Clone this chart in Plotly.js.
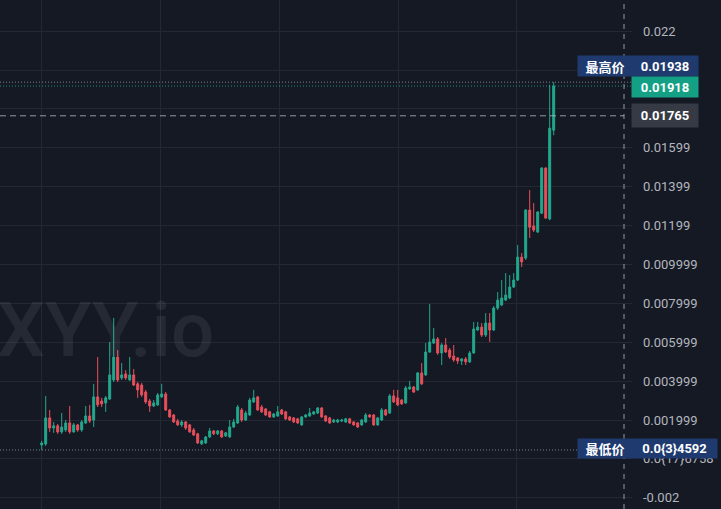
<!DOCTYPE html>
<html>
<head>
<meta charset="utf-8">
<script src="https://cdn.plot.ly/plotly-3.0.1.min.js"></script>
<style>html,body{margin:0;padding:0;background:#151924;}#chart{width:721px;height:509px;}</style>
</head>
<body>
<div id="chart"></div>
<script>
// ---- data ----
const openVals = [0.00072,0.00077,0.00211,0.00159,0.0017,0.00139,0.00149,0.00185,0.00139,0.00175,
0.00149,0.00185,0.00221,0.002,0.00319,0.00298,0.00288,0.00308,0.00406,0.00524,
0.00416,0.00437,0.00406,0.00432,0.00386,0.0038,0.00344,0.00298,0.00272,0.00278,
0.00319,0.00334,0.00252,0.00226,0.00195,0.00175,0.0019,0.00175,0.00149,0.00129,
0.00077,0.00082,0.00113,0.00144,0.00129,0.00144,0.00118,0.00113,0.00164,0.00185,
0.00252,0.002,0.00226,0.00293,0.00319,0.00267,0.00257,0.00242,0.00216,0.00221,
0.00252,0.00242,0.00216,0.00211,0.00206,0.00175,0.00216,0.00221,0.00231,0.00236,
0.00262,0.00221,0.00211,0.0019,0.0019,0.00195,0.0019,0.00206,0.0019,0.00185,
0.00175,0.0019,0.00226,0.00226,0.00175,0.002,0.00252,0.00236,0.00324,0.00314,
0.00303,0.00288,0.0036,0.0037,0.00355,0.00442,0.00432,0.0055,0.00596,0.00617,
0.00545,0.00586,0.0056,0.00529,0.00519,0.00504,0.00514,0.00499,0.00545,0.00663,
0.00678,0.00637,0.00699,0.00663,0.00776,0.00792,0.00817,0.00828,0.00884,0.0092,
0.01038,0.01033,0.0128,0.01198,0.01167,0.01264,0.01496,0.01234,0.01691];

const highVals = [0.00093,0.00324,0.00252,0.0019,0.0018,0.00236,0.002,0.00272,0.00185,0.0018,
0.002,0.00272,0.00278,0.00386,0.00524,0.00314,0.00324,0.00601,0.00725,0.0056,
0.00493,0.00457,0.00524,0.00463,0.00396,0.00391,0.00355,0.00308,0.00303,0.00339,
0.00386,0.00344,0.00257,0.00231,0.00206,0.002,0.00195,0.0018,0.00159,0.00134,
0.00098,0.00118,0.00159,0.00149,0.00149,0.00149,0.00139,0.002,0.00206,0.00278,
0.00262,0.00247,0.00314,0.00355,0.00324,0.00278,0.00262,0.00247,0.00236,0.00272,
0.00257,0.00247,0.00221,0.00216,0.00211,0.00221,0.00231,0.00262,0.00247,0.00267,
0.00267,0.00226,0.00216,0.00206,0.00206,0.00206,0.00211,0.00211,0.00195,0.0019,
0.00206,0.00236,0.00231,0.00231,0.00216,0.00262,0.00257,0.00334,0.00355,0.00355,
0.00308,0.00375,0.00401,0.00375,0.00447,0.00493,0.00596,0.00797,0.00673,0.00627,
0.00596,0.00622,0.00571,0.00586,0.00524,0.00519,0.00524,0.00555,0.00704,0.00704,
0.00699,0.0075,0.0075,0.00786,0.00858,0.0092,0.00956,0.00946,0.00956,0.011,
0.01059,0.01285,0.01383,0.01316,0.01275,0.01501,0.01501,0.01925,0.01938];

const lowVals = [0.0004592,0.00067,0.00139,0.00134,0.00129,0.00129,0.00139,0.00129,0.00134,0.00139,
0.00139,0.0018,0.00185,0.00164,0.00267,0.00267,0.00242,0.00303,0.00396,0.00396,
0.00406,0.00406,0.00401,0.00375,0.00314,0.00319,0.00283,0.00242,0.00267,0.00272,
0.00314,0.00247,0.00211,0.00185,0.0017,0.00164,0.00149,0.00134,0.00118,0.00077,
0.00072,0.00077,0.00108,0.00123,0.00123,0.00108,0.00113,0.00108,0.00159,0.0018,
0.0019,0.00195,0.00221,0.00288,0.00247,0.00236,0.00221,0.00211,0.00211,0.00216,
0.00226,0.002,0.00195,0.00185,0.0018,0.0017,0.00211,0.00216,0.00226,0.00231,
0.00211,0.0019,0.0018,0.00185,0.00185,0.0019,0.00185,0.0018,0.0017,0.00159,
0.0017,0.00185,0.00211,0.0017,0.0017,0.00195,0.00221,0.00231,0.00288,0.00272,
0.00278,0.00283,0.00355,0.00339,0.0035,0.0038,0.00427,0.00545,0.00591,0.00535,
0.00483,0.00545,0.00514,0.00499,0.00488,0.00483,0.00483,0.00493,0.0054,0.00658,
0.00627,0.00627,0.00601,0.00658,0.00766,0.00786,0.00812,0.00822,0.00879,0.00915,
0.00987,0.01023,0.01136,0.01167,0.01162,0.01259,0.01234,0.01228,0.01665];

const closeVals = [0.00082,0.00211,0.00159,0.0017,0.00139,0.00164,0.00185,0.00139,0.00175,0.00149,
0.0019,0.00221,0.00195,0.00319,0.00278,0.00283,0.00314,0.00432,0.00524,0.00406,
0.00432,0.00416,0.00432,0.0038,0.00355,0.00329,0.00293,0.00272,0.00288,0.00329,
0.00334,0.00252,0.00216,0.0019,0.00175,0.0019,0.00159,0.00139,0.00123,0.00082,
0.00093,0.00113,0.00144,0.00129,0.00144,0.00113,0.00134,0.00164,0.0019,0.00267,
0.002,0.00236,0.00303,0.00314,0.00252,0.00242,0.00226,0.00216,0.00231,0.00242,
0.00231,0.00206,0.002,0.0019,0.00185,0.00216,0.00226,0.00236,0.00242,0.00262,
0.00216,0.00195,0.00185,0.002,0.002,0.002,0.00206,0.00185,0.00175,0.00164,
0.002,0.00226,0.00216,0.00175,0.00211,0.00252,0.00226,0.00324,0.00293,0.00278,
0.00283,0.00365,0.0037,0.00344,0.00442,0.00386,0.0055,0.00601,0.00617,0.00545,
0.00586,0.0055,0.00524,0.00509,0.00504,0.00514,0.00499,0.00545,0.00668,0.00678,
0.00637,0.00699,0.00663,0.00776,0.00817,0.00828,0.00843,0.00884,0.0092,0.01038,
0.01013,0.0128,0.01192,0.01177,0.0127,0.01496,0.01239,0.01701,0.01918];

const yTickVals = [-0.002, 0, 0.002, 0.004, 0.006, 0.008, 0.01, 0.012, 0.014, 0.016, 0.018, 0.02, 0.022];
const yTickText = ["-0.002", "0.0{17}6758", "0.001999", "0.003999", "0.005999", "0.007999", "0.009999", "0.01199", "0.01399", "0.01599", "", "", "0.022"];

const highPrice = 0.01938, highLabel = "0.01938";
const lowPrice = 0.0004592, lowLabel = "0.0{3}4592";
const lastPrice = 0.01918, lastLabel = "0.01918";
const crossPrice = 0.01765, crossLabel = "0.01765";
const highTitle = "最高价", lowTitle = "最低价";
const watermark = "XYY.io";

const xIdx = closeVals.map((_, i) => i);

const UP = '#22a88e', DOWN = '#e8505b';
const trace = {
  type: 'candlestick',
  x: xIdx, open: openVals, high: highVals, low: lowVals, close: closeVals,
  increasing: {line: {color: UP, width: 1}, fillcolor: UP},
  decreasing: {line: {color: DOWN, width: 1}, fillcolor: DOWN},
  whiskerwidth: 0,
  hoverinfo: 'skip',
  showlegend: false
};

const PW = 632; // plot width in px
const px = v => v / PW;
const labelFont = {family: 'Roboto, "Noto Sans CJK SC", sans-serif', size: 13, color: '#ffffff', weight: 'bold'};
const cjkFont = {family: '"Noto Sans CJK SC", sans-serif', size: 13, color: '#ffffff', weight: 'bold'};
const BLUE = '#1e3a6f';

const layout = {
  width: 721, height: 509,
  margin: {l: 0, r: 89, t: 0, b: 0, pad: 0},
  paper_bgcolor: '#151924', plot_bgcolor: '#151924',
  font: {family: 'Roboto, sans-serif', size: 13, color: '#b2b5be'},
  showlegend: false,
  xaxis: {
    range: [-10.425, 147.575], showticklabels: false, ticks: '',
    showgrid: true, gridcolor: '#232834', gridwidth: 1, zeroline: false,
    tick0: 0, dtick: 29.7, rangeslider: {visible: false}, fixedrange: true, showline: false
  },
  yaxis: {
    side: 'right', range: [-0.002577, 0.023606],
    tickmode: 'array', tickvals: yTickVals, ticktext: yTickText,
    showgrid: true, gridcolor: '#232834', gridwidth: 1, zeroline: false,
    ticks: '', ticklabelstandoff: 10, showline: false, fixedrange: true,
    tickfont: {size: 13, color: '#b2b5be'}
  },
  shapes: [
    {type: 'line', xref: 'paper', yref: 'y', x0: 0, x1: 1, y0: highPrice, y1: highPrice,
     line: {color: 'rgba(210,215,225,0.55)', width: 1, dash: '1px,2px'}},
    {type: 'line', xref: 'paper', yref: 'y', x0: 0, x1: 1, y0: lastPrice, y1: lastPrice,
     line: {color: 'rgba(34,168,142,0.8)', width: 1, dash: '1px,2px'}},
    {type: 'line', xref: 'paper', yref: 'y', x0: 0, x1: 1, y0: lowPrice, y1: lowPrice,
     line: {color: 'rgba(210,215,225,0.55)', width: 1, dash: '1px,2px'}},
    {type: 'line', xref: 'paper', yref: 'y', x0: 0, x1: px(624), y0: crossPrice, y1: crossPrice,
     line: {color: 'rgba(180,185,195,0.8)', width: 1, dash: '6px,4px'}},
    {type: 'line', xref: 'paper', yref: 'paper', x0: px(624), x1: px(624), y0: 0, y1: 1,
     line: {color: 'rgba(180,185,195,0.8)', width: 1, dash: '5px,5px'}}
  ],
  annotations: [
    {text: watermark, xref: 'paper', yref: 'paper', x: px(216), y: 1 - 330/509,
     xanchor: 'right', yanchor: 'middle', showarrow: false,
     font: {family: 'Roboto, sans-serif', size: 76, color: 'rgba(255,255,255,0.07)', weight: 500}},
    // highest
    {text: highTitle, xref: 'paper', yref: 'y', x: px(605), y: highPrice, yshift: 16,
     xanchor: 'center', yanchor: 'middle', showarrow: false, bgcolor: BLUE,
     width: 50, height: 16, borderpad: 2, font: cjkFont},
    {text: highLabel, xref: 'paper', yref: 'y', x: px(665), y: highPrice, yshift: 16,
     xanchor: 'center', yanchor: 'middle', showarrow: false, bgcolor: BLUE,
     width: 62, height: 16, borderpad: 2, font: labelFont},
    // last
    {text: lastLabel, xref: 'paper', yref: 'y', x: px(665), y: lastPrice, yshift: -1,
     xanchor: 'center', yanchor: 'middle', showarrow: false, bgcolor: '#14a085',
     width: 62, height: 16, borderpad: 2, font: labelFont},
    // crosshair
    {text: crossLabel, xref: 'paper', yref: 'y', x: px(665), y: crossPrice,
     xanchor: 'center', yanchor: 'middle', showarrow: false, bgcolor: '#363a45',
     width: 62, height: 19, borderpad: 2, font: labelFont},
    // lowest
    {text: lowTitle, xref: 'paper', yref: 'y', x: px(605), y: lowPrice, yshift: 1,
     xanchor: 'center', yanchor: 'middle', showarrow: false, bgcolor: BLUE,
     width: 50, height: 15, borderpad: 2, font: cjkFont},
    {text: lowLabel, xref: 'paper', yref: 'y', x: px(674.5), y: lowPrice, yshift: 1,
     xanchor: 'center', yanchor: 'middle', showarrow: false, bgcolor: BLUE,
     width: 81, height: 15, borderpad: 2, font: labelFont}
  ]
};

Plotly.newPlot('chart', [trace], layout, {displayModeBar: false, staticPlot: true});
</script>
</body>
</html>
